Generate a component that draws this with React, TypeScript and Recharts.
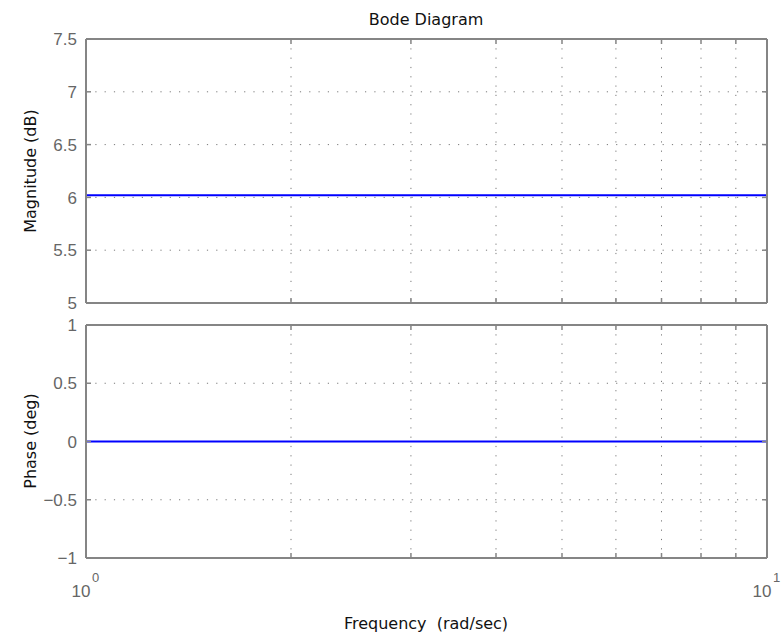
import { LineChart, Line, XAxis, YAxis, CartesianGrid } from 'recharts'

// frequency points (rad/sec) and the Bode response
const frequencies = [1, 2, 3, 4, 5, 6, 7, 8, 9, 10]
const magnitudeDb = [6.02, 6.02, 6.02, 6.02, 6.02, 6.02, 6.02, 6.02, 6.02, 6.02]
const phaseDeg = [0, 0, 0, 0, 0, 0, 0, 0, 0, 0]

const freqTicks = [1, 2, 3, 4, 5, 6, 7, 8, 9, 10]
const decadeLabels: Record<number, string> = { 1: '0', 10: '1' }
const magTicks = [5, 5.5, 6, 6.5, 7, 7.5]
const magTickLabels = ['5', '5.5', '6', '6.5', '7', '7.5']
const phaseTicks = [-1, -0.5, 0, 0.5, 1]
const phaseTickLabels = ['\u22121', '\u22120.5', '0', '0.5', '1']

const magData = frequencies.map((f, i) => ({ f, v: magnitudeDb[i] }))
const phaseData = frequencies.map((f, i) => ({ f, v: phaseDeg[i] }))

const FRAME = '#858585'
const TICK_TEXT = '#666'
const TICK_FONT = '"Liberation Sans", Arial, sans-serif'
const LABEL_FONT = '"DejaVu Sans", sans-serif'

const BottomTick = ({ x, y, payload, showLabel }: any) => {
    const sup = decadeLabels[payload.value]
    return (
        <g>
            <line x1={x} y1={y} x2={x} y2={y - 5} stroke={FRAME} strokeWidth={1.5} />
            {showLabel && sup !== undefined && (
                <g fontFamily={TICK_FONT} fill={TICK_TEXT}>
                    <text x={x + 4.5} y={y + 39} textAnchor="end" fontSize={17}>10</text>
                    <text x={x + 6} y={y + 24} textAnchor="start" fontSize={13}>{sup}</text>
                </g>
            )}
        </g>
    )
}

const TopTick = ({ x, y }: any) => (
    <line x1={x} y1={y} x2={x} y2={y + 5} stroke={FRAME} strokeWidth={1.5} />
)

const makeLeftTick = (values: number[], labels: string[]) => ({ x, y, payload }: any) => {
    const idx = values.indexOf(payload.value)
    return (
        <g>
            <line x1={x} y1={y} x2={x + 5} y2={y} stroke={FRAME} strokeWidth={1.5} />
            <text x={x - 9} y={y} dy="0.36em" textAnchor="end" fontSize={17} fontFamily={TICK_FONT} fill={TICK_TEXT}>
                {labels[idx]}
            </text>
        </g>
    )
}

const RightTick = ({ x, y }: any) => (
    <line x1={x} y1={y} x2={x - 5} y2={y} stroke={FRAME} strokeWidth={1.5} />
)

const MagLeftTick = makeLeftTick(magTicks, magTickLabels)
const PhaseLeftTick = makeLeftTick(phaseTicks, phaseTickLabels)

interface PanelProps {
    data: { f: number; v: number }[]
    domain: [number, number]
    ticks: number[]
    leftTick: any
    top: number
    bottom: number
    showFreqLabels: boolean
}

const W = 781
const H = 637
const PLOT_LEFT = 86
const PLOT_RIGHT = 767

const Panel = ({ data, domain, ticks, leftTick, top, bottom, showFreqLabels }: PanelProps) => (
    <div style={{ position: 'absolute', left: 0, top: 0 }}>
        <LineChart
            width={W}
            height={H}
            data={data}
            margin={{ top: top - 1, bottom: H - bottom - 1, left: PLOT_LEFT - 1, right: W - PLOT_RIGHT - 1 }}
        >
            <CartesianGrid xAxisId="b" yAxisId="l" stroke="#7a7a7a" strokeDasharray="1.2 8.1" />
            <XAxis
                xAxisId="b"
                dataKey="f"
                type="number"
                scale="log"
                domain={[1, 10]}
                ticks={freqTicks}
                allowDataOverflow
                height={1}
                tickSize={0}
                tickMargin={0}
                tickLine={false}
                axisLine={{ stroke: FRAME, strokeWidth: 2 }}
                tick={<BottomTick showLabel={showFreqLabels} />}
                interval={0}
            />
            <XAxis
                xAxisId="t"
                orientation="top"
                dataKey="f"
                type="number"
                scale="log"
                domain={[1, 10]}
                ticks={freqTicks}
                allowDataOverflow
                height={1}
                tickSize={0}
                tickMargin={0}
                tickLine={false}
                axisLine={{ stroke: FRAME, strokeWidth: 2 }}
                tick={<TopTick />}
                interval={0}
            />
            <YAxis
                yAxisId="l"
                type="number"
                domain={domain}
                ticks={ticks}
                allowDataOverflow
                width={1}
                tickSize={0}
                tickMargin={0}
                tickLine={false}
                axisLine={{ stroke: FRAME, strokeWidth: 2 }}
                tick={leftTick}
                interval={0}
            />
            <YAxis
                yAxisId="r"
                orientation="right"
                type="number"
                domain={domain}
                ticks={ticks}
                allowDataOverflow
                width={1}
                tickSize={0}
                tickMargin={0}
                tickLine={false}
                axisLine={{ stroke: FRAME, strokeWidth: 2 }}
                tick={<RightTick />}
                interval={0}
            />
            <Line
                xAxisId="b"
                yAxisId="l"
                type="linear"
                dataKey="v"
                stroke="#0000ff"
                strokeWidth={2}
                dot={false}
                isAnimationActive={false}
            />
        </LineChart>
    </div>
)

export default function App() {
    return (
        <div style={{ position: 'absolute', left: 0, top: 0, width: W, height: H, background: '#fff', overflow: 'hidden' }}>
            <Panel data={magData} domain={[5, 7.5]} ticks={magTicks} leftTick={<MagLeftTick />} top={39} bottom={303} showFreqLabels={false} />
            <Panel data={phaseData} domain={[-1, 1]} ticks={phaseTicks} leftTick={<PhaseLeftTick />} top={325} bottom={558} showFreqLabels={true} />
            <svg width={W} height={H} style={{ position: 'absolute', left: 0, top: 0, pointerEvents: 'none' }}>
                <g fontFamily={LABEL_FONT} fontSize={16} fill="#111">
                    <text x={426} y={25} textAnchor="middle">Bode Diagram</text>
                    <text x={426} y={629} textAnchor="middle" style={{ whiteSpace: 'pre' }}>{'Frequency  (rad/sec)'}</text>
                    <text transform="translate(36,171) rotate(-90)" textAnchor="middle">Magnitude (dB)</text>
                    <text transform="translate(36,441) rotate(-90)" textAnchor="middle">Phase (deg)</text>
                </g>
            </svg>
        </div>
    )
}
